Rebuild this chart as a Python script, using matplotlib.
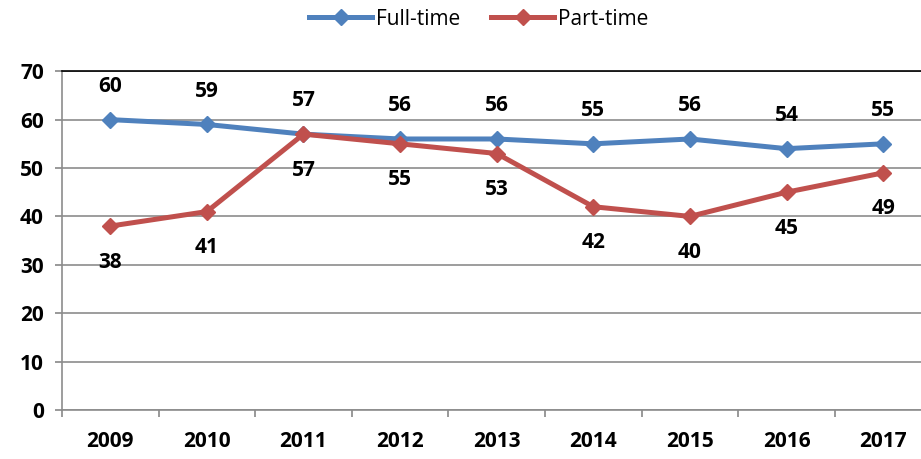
import matplotlib.pyplot as plt
import numpy as np

years = ["2009", "2010", "2011", "2012", "2013", "2014", "2015", "2016", "2017"]
full_time = [60, 59, 57, 56, 56, 55, 56, 54, 55]
part_time = [38, 41, 57, 55, 53, 42, 40, 45, 49]

plt.rcParams["font.family"] = ["Open Sans", "DejaVu Sans"]

fig = plt.figure(figsize=(9.21, 4.59), dpi=100)
ax = fig.add_axes([0.0673, 0.1068, 0.944, 0.738])

x = np.arange(len(years))
blue = "#4F81BD"
red = "#C0504D"

ax.plot(x, full_time, color=blue, lw=3.6, marker="D", ms=8, label="Full-time")
ax.plot(x, part_time, color=red, lw=3.6, marker="D", ms=8, label="Part-time")

for xi, v in zip(x, full_time):
    ax.annotate(str(v), (xi, v), xytext=(0, 24), textcoords="offset points",
                ha="center", va="center", fontsize=15, fontweight="bold")
for xi, v in zip(x, part_time):
    ax.annotate(str(v), (xi, v), xytext=(0, -26), textcoords="offset points",
                ha="center", va="center", fontsize=15, fontweight="bold")

ax.set_xlim(-0.5, len(years) - 0.5)
ax.set_ylim(0, 70)
ax.set_yticks(range(0, 71, 10))
ax.set_yticklabels([str(v) for v in range(0, 71, 10)], fontsize=15, fontweight="bold")
ax.set_xticks(x)
ax.set_xticklabels(years, fontsize=15, fontweight="bold")
ax.set_xticks(np.arange(-0.5, len(years), 1), minor=True)
ax.tick_params(axis="x", which="major", length=0, pad=15)
ax.tick_params(axis="x", which="minor", length=5, color="#888888", width=1.2)
ax.tick_params(axis="y", length=5, color="#888888", width=1.2, pad=8)

ax.grid(axis="y", color="#8c8c8c", lw=1.2)
ax.set_axisbelow(True)
for s in ["left", "bottom"]:
    ax.spines[s].set_color("#8c8c8c")
    ax.spines[s].set_linewidth(1.2)
ax.spines["top"].set_color("black")
ax.spines["top"].set_linewidth(1.2)
ax.spines["right"].set_visible(False)

fig.legend(loc="center", bbox_to_anchor=(0.52, 0.958), ncol=2, frameon=False,
           fontsize=15, handlelength=3.0, columnspacing=1.5, handletextpad=0.2)

fig.savefig("out.png", dpi=100)
